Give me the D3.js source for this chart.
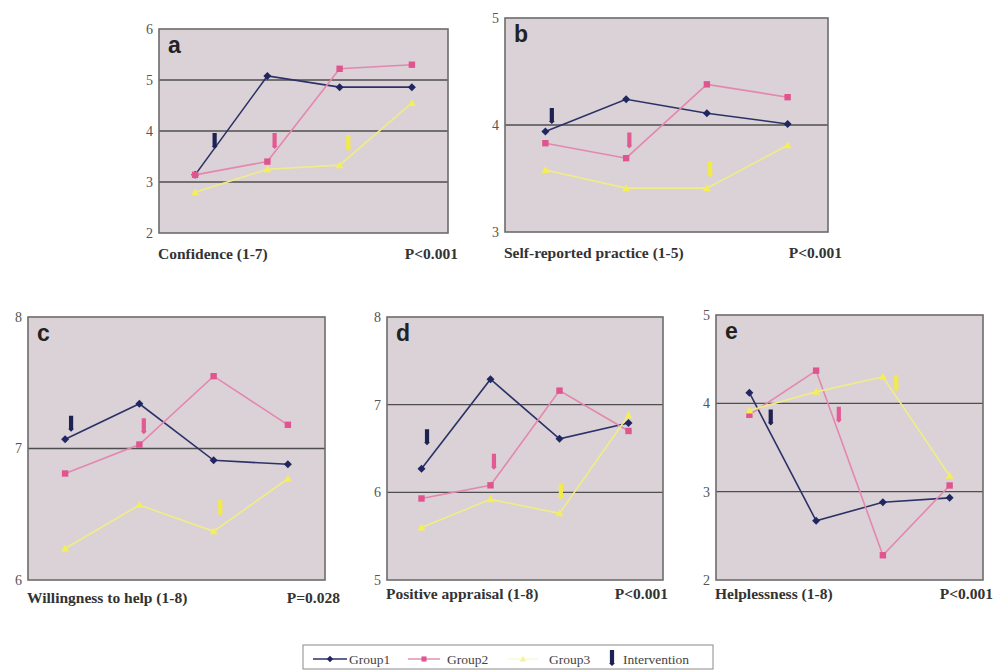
<!DOCTYPE html>
<html>
<head>
<meta charset="utf-8">
<script src="https://cdn.jsdelivr.net/npm/d3@7"></script>
<style>
html,body{margin:0;padding:0;background:#fff;}
svg{display:block;}
.serif{font-family:"Liberation Serif","Times New Roman","DejaVu Serif",serif;}
.sans{font-family:"Liberation Sans",Arial,"DejaVu Sans",sans-serif;}
</style>
</head>
<body>
<svg id="chart" width="995" height="671"></svg>
<script>
// ---------- DATA ----------
const categories = ["T1", "T2", "T3", "T4"];
const groups = ["Group1", "Group2", "Group3"];
const panelLetters = ["a", "b", "c", "d", "e"];
const panelTitles = ["Confidence (1-7)", "Self-reported practice (1-5)", "Willingness to help (1-8)", "Positive appraisal (1-8)", "Helplessness (1-8)"];
const pValues = ["P<0.001", "P<0.001", "P=0.028", "P<0.001", "P<0.001"];
const yDomains = [[2, 6], [3, 5], [6, 8], [5, 8], [2, 5]];
const group1Values = [
  [3.14, 5.08, 4.86, 4.86],
  [3.94, 4.24, 4.11, 4.01],
  [7.07, 7.34, 6.91, 6.88],
  [6.27, 7.29, 6.61, 6.79],
  [4.12, 2.67, 2.88, 2.93]
];
const group2Values = [
  [3.14, 3.40, 5.22, 5.30],
  [3.83, 3.69, 4.38, 4.26],
  [6.81, 7.03, 7.55, 7.18],
  [5.93, 6.08, 7.16, 6.70],
  [3.87, 4.37, 2.28, 3.07]
];
const group3Values = [
  [2.80, 3.25, 3.33, 4.55],
  [3.58, 3.41, 3.41, 3.81],
  [6.24, 6.57, 6.37, 6.77],
  [5.60, 5.92, 5.76, 6.88],
  [3.92, 4.13, 4.30, 3.18]
];
// Intervention arrows: position on the time axis (fractional category index) and top value, per panel per group
const interventionPos = [
  [0.27, 1.10, 2.12],
  [0.08, 1.04, 2.04],
  [0.08, 1.06, 2.09],
  [0.08, 1.05, 2.02],
  [0.32, 1.34, 2.20]
];
const interventionTop = [
  [3.96, 3.96, 3.92],
  [4.16, 3.93, 3.66],
  [7.25, 7.23, 6.61],
  [6.72, 6.44, 6.10],
  [3.93, 3.96, 4.32]
];

// ---------- LAYOUT / STYLE ----------
const layout = [
  {x0: 159, x1: 448, y0: 29, y1: 233, titleDy: 26, pDx: 10},
  {x0: 505, x1: 828, y0: 18, y1: 232, titleDy: 26, pDx: 14},
  {x0: 28,  x1: 325, y0: 317, y1: 580, titleDy: 23, pDx: 15},
  {x0: 387, x1: 663, y0: 317, y1: 580, titleDy: 19, pDx: 5},
  {x0: 716, x1: 983, y0: 315, y1: 580, titleDy: 19, pDx: 10}
];
const lineColors = ["#2c3268", "#e487ae", "#f1ec86"];
const markColors = ["#1f2660", "#e0558f", "#f4ee58"];
const arrowColors = ["#1c2352", "#e25a93", "#f2ea4a"];
const allValues = [group1Values, group2Values, group3Values];

function markerPath(k, s) {
  const p = d3.path();
  if (k === 0) {
    p.moveTo(0, -s); p.lineTo(s, 0); p.lineTo(0, s); p.lineTo(-s, 0); p.closePath();
  } else if (k === 1) {
    const h = s * 0.8;
    p.rect(-h, -h, 2 * h, 2 * h);
  } else {
    p.moveTo(0, -s); p.lineTo(s, s * 0.75); p.lineTo(-s, s * 0.75); p.closePath();
  }
  return p.toString();
}

const svg = d3.select("#chart");

function arrowPath(x, yTop, len) {
  const p = d3.path();
  const sw = 2.1, hw = 3.0, hl = 3;
  p.moveTo(x - sw, yTop);
  p.lineTo(x + sw, yTop);
  p.lineTo(x + sw, yTop + len - hl);
  p.lineTo(x + hw, yTop + len - hl);
  p.lineTo(x, yTop + len);
  p.lineTo(x - hw, yTop + len - hl);
  p.lineTo(x - sw, yTop + len - hl);
  p.closePath();
  return p.toString();
}

panelLetters.forEach((letter, i) => {
  const L = layout[i];
  const g = svg.append("g");
  const x = d3.scaleLinear().domain([-0.5, categories.length - 0.5]).range([L.x0, L.x1]);
  const y = d3.scaleLinear().domain(yDomains[i]).range([L.y1, L.y0]);
  const ticks = d3.range(yDomains[i][0], yDomains[i][1] + 1);

  g.append("rect").attr("x", L.x0).attr("y", L.y0)
    .attr("width", L.x1 - L.x0).attr("height", L.y1 - L.y0)
    .attr("fill", "#dad2d6");

  g.selectAll(".grid").data(ticks.slice(1, -1)).enter().append("line")
    .attr("x1", L.x0).attr("x2", L.x1)
    .attr("y1", d => y(d)).attr("y2", d => y(d))
    .attr("stroke", "#4e4e4e").attr("stroke-width", 1.3);

  g.append("rect").attr("x", L.x0).attr("y", L.y0)
    .attr("width", L.x1 - L.x0).attr("height", L.y1 - L.y0)
    .attr("fill", "none").attr("stroke", "#6c6c6c").attr("stroke-width", 1.6);

  const ax = g.append("g").attr("transform", `translate(${L.x0},0)`)
    .call(d3.axisLeft(y).tickValues(ticks).tickSize(0).tickPadding(6).tickFormat(d3.format("d")));
  ax.select(".domain").remove();
  ax.attr("font-family", null).attr("font-size", null);
  ax.selectAll("text").attr("class", "serif")
    .style("font-size", "14px").attr("fill", "#555");

  g.append("text").attr("class", "sans").attr("x", L.x0 + 9).attr("y", L.y0 + 24)
    .attr("font-weight", "bold").style("font-size", "23px").attr("fill", "#222").text(letter);

  groups.forEach((grp, k) => {
    const vals = allValues[k][i];
    const line = d3.line().x((d, j) => x(j)).y(d => y(d));
    g.append("path").datum(vals).attr("d", line)
      .attr("fill", "none").attr("stroke", lineColors[k]).attr("stroke-width", 1.6);
    g.selectAll(".m" + k).data(vals).enter().append("path")
      .attr("transform", (d, j) => `translate(${x(j)},${y(d)})`)
      .attr("d", markerPath(k, 4))
      .attr("fill", markColors[k]);
  });

  groups.forEach((grp, k) => {
    g.append("path")
      .attr("d", arrowPath(x(interventionPos[i][k]), y(interventionTop[i][k]), 16))
      .attr("fill", arrowColors[k]);
  });

  g.append("text").attr("class", "serif").attr("x", L.x0 - 1).attr("y", L.y1 + L.titleDy)
    .attr("font-weight", "bold").style("font-size", "15.5px").attr("fill", "#333").text(panelTitles[i]);
  g.append("text").attr("class", "serif").attr("x", L.x1 + L.pDx).attr("y", L.y1 + L.titleDy)
    .attr("text-anchor", "end")
    .attr("font-weight", "bold").style("font-size", "15.5px").attr("fill", "#333").text(pValues[i]);
});

// ---------- LEGEND ----------
const lg = svg.append("g");
lg.append("rect").attr("x", 303).attr("y", 645).attr("width", 410).attr("height", 24)
  .attr("fill", "#fff").attr("stroke", "#8a8a8a").attr("stroke-width", 1);
const legendItems = [
  {x: 313, w: 34, tx: 349},
  {x: 408, w: 32, tx: 447},
  {x: 508, w: 30, tx: 549}
];
groups.forEach((grp, k) => {
  const it = legendItems[k];
  const ly = 659;
  lg.append("line").attr("x1", it.x).attr("x2", it.x + it.w).attr("y1", ly).attr("y2", ly)
    .attr("stroke", k === 2 ? "#fbf8d8" : lineColors[k]).attr("stroke-width", 1.4);
  lg.append("path").attr("transform", `translate(${it.x + it.w / 2},${ly})`)
    .attr("d", markerPath(k, 3.2))
    .attr("fill", k === 2 ? "#f6f29a" : markColors[k]);
  lg.append("text").attr("class", "serif").attr("x", it.tx).attr("y", ly + 4.5)
    .style("font-size", "13.5px").attr("fill", "#444").text(grp);
});
lg.append("path").attr("d", arrowPath(612, 650, 16)).attr("fill", arrowColors[0]);
lg.append("text").attr("class", "serif").attr("x", 623).attr("y", 663.5)
  .style("font-size", "13.5px").attr("fill", "#444").text("Intervention");
</script>
</body>
</html>
